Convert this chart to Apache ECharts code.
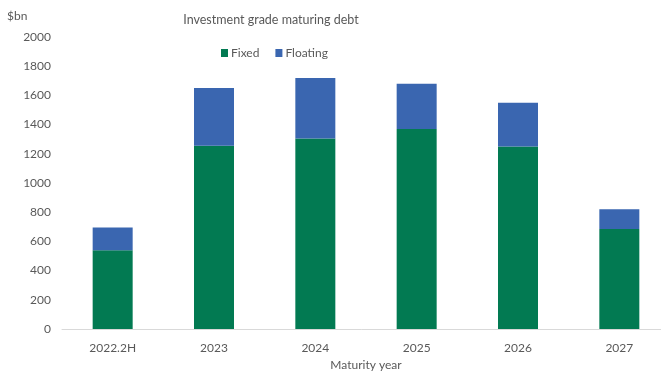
<!DOCTYPE html>
<html>
<head>
<meta charset="utf-8">
<script src="https://cdn.jsdelivr.net/npm/echarts@6/dist/echarts.min.js"></script>
<style>
  html, body { margin: 0; padding: 0; background: #fff; }
  #chart { width: 661px; height: 371px; }
</style>
</head>
<body>
<div id="chart"></div>
<script>
// Maturity years and amounts ($bn) by coupon type
const years = ['2022.2H', '2023', '2024', '2025', '2026', '2027'];
const fixed = [540, 1255, 1305, 1370, 1250, 685];
const floating = [155, 395, 415, 310, 300, 135];
const yTicks = { min: 0, max: 2000, interval: 200 };

const textColor = '#595959';
const font = 'Lato, "Open Sans", sans-serif';

const chart = echarts.init(document.getElementById('chart'), null, { renderer: 'canvas' });
chart.setOption({
  animation: false,
  backgroundColor: '#ffffff',
  textStyle: { fontFamily: font },
  title: {
    text: 'Investment grade maturing debt',
    left: 266, top: 8,
    textAlign: 'center',
    textStyle: { fontFamily: font, fontSize: 12.5, fontWeight: 'normal', color: textColor }
  },
  legend: {
    data: ['Fixed', 'Floating'],
    left: 216, top: 42,
    itemWidth: 7, itemHeight: 8, itemGap: 16,
    icon: 'rect',
    textStyle: { fontFamily: font, fontSize: 12, color: textColor, padding: [0, 0, 0, -2] }
  },
  // the plot area runs a little past the right edge of the canvas
  grid: { left: 62, right: -9, top: 37, bottom: 42, containLabel: false, outerBoundsMode: 'none' },
  xAxis: {
    type: 'category',
    data: years,
    name: 'Maturity year',
    nameLocation: 'middle',
    nameGap: 30,
    nameTextStyle: { fontFamily: font, fontSize: 12, color: textColor },
    axisLine: { lineStyle: { color: '#d9d9d9' } },
    axisTick: { show: false },
    axisLabel: { fontFamily: font, fontSize: 12, color: textColor, margin: 13 }
  },
  yAxis: {
    type: 'value',
    min: yTicks.min, max: yTicks.max, interval: yTicks.interval,
    name: '$bn',
    nameLocation: 'end',
    nameGap: 15,
    nameTextStyle: { fontFamily: font, fontSize: 12, color: textColor, align: 'left', padding: [0, 0, 0, -55] },
    splitLine: { show: false },
    axisLine: { show: false },
    axisTick: { show: false },
    axisLabel: {
      fontFamily: font, fontSize: 12, color: textColor, margin: 11,
      formatter: (v) => String(v)
    }
  },
  series: [
    {
      name: 'Fixed', type: 'bar', stack: 'total', data: fixed,
      barWidth: 40,
      itemStyle: { color: '#027A52' }
    },
    {
      name: 'Floating', type: 'bar', stack: 'total', data: floating,
      barWidth: 40,
      itemStyle: { color: '#3A66B0' }
    }
  ]
});
</script>
</body>
</html>
